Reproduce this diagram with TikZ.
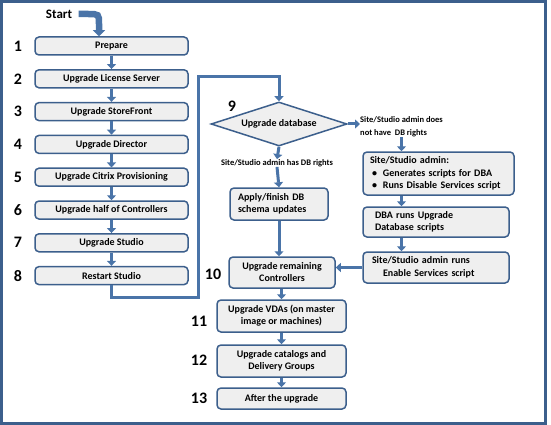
\documentclass[tikz,border=0pt]{standalone}
\usepackage{fontspec}
\setmainfont{Carlito}
\usetikzlibrary{shapes.geometric,arrows.meta}
\definecolor{boxline}{HTML}{3C5F8C}
\definecolor{boxfill}{HTML}{EFEFEF}
\definecolor{arrowblue}{HTML}{4A74A8}
\begin{document}
\begin{tikzpicture}[x=1pt,y=-1pt,
  stepbox/.style={draw=boxline, line width=1.5pt, fill=boxfill, rounded corners=4pt,
    font=\bfseries\fontsize{10}{12}\selectfont, inner sep=0pt},
  sidebox/.style={stepbox, align=left, font=\bfseries\fontsize{10}{12.5}\selectfont},
  stepnum/.style={font=\bfseries\fontsize{16}{16}\selectfont},
  cond/.style={font=\bfseries\fontsize{8.5}{13}\selectfont, align=left, inner sep=0pt},
  decision/.style={diamond, draw=boxline, line width=1.5pt, fill=boxfill, aspect=3.1,
    minimum width=136pt, minimum height=44pt, inner sep=0pt,
    font=\bfseries\fontsize{10}{12}\selectfont},
  flow/.style={draw=arrowblue, line width=3pt, -{Triangle[width=9pt,length=5pt]}},
  bigflow/.style={draw=arrowblue, line width=6.5pt, -{Triangle[width=12pt,length=6pt]}}]
 \useasboundingbox (0,0) rectangle (551,425);
 \draw[boxline, line width=3pt] (1.5,1.5) rectangle (545,423);
 % left column, steps 1 to 8
 \foreach \i/\t in {1/Prepare, 2/Upgrade License Server, 3/Upgrade StoreFront,
   4/Upgrade Director, 5/Upgrade Citrix Provisioning, 6/Upgrade half of Controllers,
   7/Upgrade Studio, 8/Restart Studio} {
  \node[stepbox, minimum width=153pt, minimum height=18pt] (s\i) at (111.5,{46+32.8*(\i-1)}) {\t};
  \node[stepnum] (n\i) at (18,{46+32.8*(\i-1)}) {\i};
 }
 \foreach \i [count=\j from 2] in {1,...,7}
  \draw[flow] (s\i.south) -- (s\j.north);
 \node[font=\bfseries\fontsize{13}{13}\selectfont] (start) at (59,14) {Start};
 \draw[bigflow] ([xshift=3pt]start.east) -- (88,14) .. controls (99,14) .. (99,24) -- (s1.north -| 99,0);
 % database step
 \node[decision] (db) at (279,124) {Upgrade database};
 \node[stepnum] (n9) at (232,106) {9};
 \draw[flow] (s8.south) -- ++(0,12) -| (198,77) -| (db.north);
 \node[cond, anchor=west] (notdb) at (360,126.5) {Site/Studio admin does\\not have\ \ DB rights};
 \draw[flow] (db.east) -- (db.east -| notdb.west);
 \node[cond] (hasdb) at (277,163) {Site/Studio admin has DB rights};
 \draw[flow] (db.south) -- (hasdb.north);
 \node[stepbox, align=left, text width=82pt, inner xsep=8pt, minimum height=32pt] (apply) at (279,204) {Apply/finish DB\\schema updates};
 \draw[flow] (hasdb.south) -- (apply.north);
 % admin without DB rights
 \node[sidebox, text width=143pt, inner xsep=4pt, minimum height=43pt] (gen) at (438.5,173.5)
  {\hspace*{3pt}Site/Studio admin:\\\hspace*{5pt}\textbullet\hspace{6pt}Generates scripts for DBA\\\hspace*{5pt}\textbullet\hspace{6pt}Runs Disable Services script};
 \node[sidebox, text width=122pt, inner xsep=12pt, minimum height=30pt] (dba) at (436,222) {DBA runs Upgrade\\Database scripts};
 \node[sidebox, text width=128pt, inner xsep=9pt, minimum height=31pt] (ena) at (436,267.5) {Site/Studio admin runs\\\hspace*{11pt}Enable Services script};
 \draw[flow] (notdb.south) -- (notdb.south |- gen.north);
 \draw[flow] (gen.south -| notdb.south) -- (dba.north -| notdb.south);
 \draw[flow] (dba.south -| notdb.south) -- (ena.north -| notdb.south);
 % steps 10 to 13
 \node[stepbox, align=center, minimum width=106pt, minimum height=31pt] (s10) at (282,272.5) {Upgrade remaining\\Controllers};
 \node[stepbox, align=center, minimum width=129pt, minimum height=32pt] (s11) at (281.5,316) {Upgrade VDAs (on master\\image or machines)};
 \node[stepbox, align=center, minimum width=129pt, minimum height=32pt] (s12) at (281.5,361) {Upgrade catalogs and\\Delivery Groups};
 \node[stepbox, minimum width=129pt, minimum height=21pt] (s13) at (281.5,398.5) {After the upgrade};
 \node[stepnum] (n10) at (213,274) {10};
 \node[stepnum] (n11) at (199,321) {11};
 \node[stepnum] (n12) at (199,360) {12};
 \node[stepnum] (n13) at (199,398) {13};
 \draw[flow] (apply.south) -- (apply.south |- s10.north);
 \draw[flow] (ena.west) -- (ena.west -| s10.east);
 \draw[flow] (s10.south -| s11.north) -- (s11.north);
 \draw[flow] (s11.south) -- (s12.north);
 \draw[flow] (s12.south) -- (s13.north);
\end{tikzpicture}
\end{document}
